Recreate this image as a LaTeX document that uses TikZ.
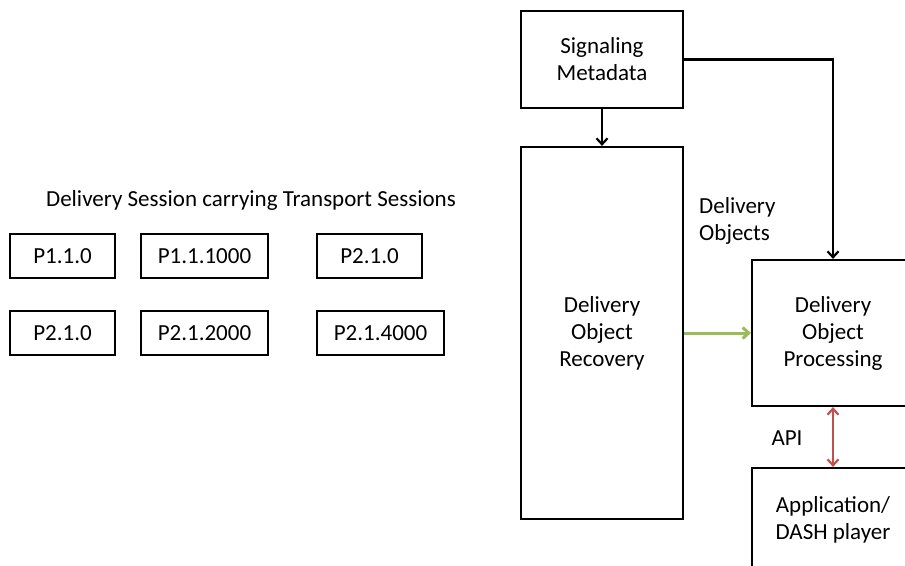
\documentclass[tikz,border=0pt]{standalone}
\usepackage{fontspec}
\setmainfont{Carlito}
\usetikzlibrary{arrows.meta}
\definecolor{okgreen}{HTML}{9BBB59}
\definecolor{okred}{HTML}{C0504D}
\begin{document}
\begin{tikzpicture}[x=1pt,y=-1pt,
  blk/.style={draw, line width=2.2pt, inner sep=0pt, align=center, font=\fontsize{23}{27}\selectfont},
  lbl/.style={inner sep=0pt, font=\fontsize{23}{27}\selectfont},
  >={Straight Barb[length=6pt,width=11pt]}]
\clip (0,0) rectangle (905,565);

\node[blk, minimum width=162pt, minimum height=97pt] (1) at (602,59.5) {Signaling\\Metadata};
\node[blk, minimum width=162pt, minimum height=372pt] (2) at (602,333) {Delivery\\Object\\Recovery};
\node[blk, minimum width=162pt, minimum height=146pt] (3) at (833,333) {Delivery\\Object\\Processing};
\node[blk, minimum width=162pt, minimum height=103pt] (4) at (833,519.5) {Application/\\DASH player};

\node[lbl, align=left, anchor=west] at (699,221) {Delivery\\Objects};
\node[lbl] at (787,438) {API};

\node[lbl] at (251,200) {Delivery Session carrying Transport Sessions};
\node[blk, minimum width=105pt, minimum height=44pt] (5) at (62.5,256) {P1.1.0};
\node[blk, minimum width=127pt, minimum height=44pt] (6) at (204.5,256) {P1.1.1000};
\node[blk, minimum width=105pt, minimum height=44pt] (7) at (369.5,256) {P2.1.0};
\node[blk, minimum width=105pt, minimum height=44pt] (8) at (62.5,333) {P2.1.0};
\node[blk, minimum width=127pt, minimum height=44pt] (9) at (204.5,333) {P2.1.2000};
\node[blk, minimum width=127pt, minimum height=44pt] (10) at (380.5,333) {P2.1.4000};

\path[draw,line width=2.2pt,->] (1) -- (2);
\path[draw,line width=2.2pt,->] (1.east) -| (3.north);
\path[draw=okgreen,line width=3pt,->] (2.east) -- (3.west);
\path[draw=okred,line width=2.2pt,<->] (3.south) -- (4.north);
\end{tikzpicture}
\end{document}
